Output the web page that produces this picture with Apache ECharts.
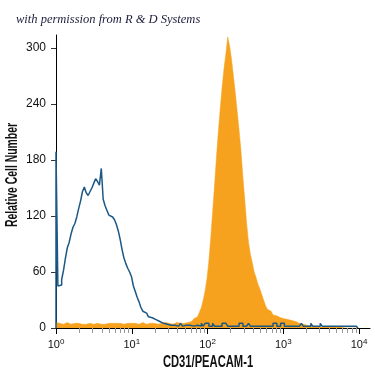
<!DOCTYPE html>
<html>
<head>
<meta charset="utf-8">
<script src="https://cdn.jsdelivr.net/npm/echarts@6/dist/echarts.min.js"></script>
<style>
  html, body { margin: 0; padding: 0; background: #fff; }
  #flow_chart { width: 375px; height: 375px; }
</style>
</head>
<body>
<div id="flow_chart"></div>
<script>
// bin width in decades (log10 units), bins start at 10^0
const binWidth = 0.025
// isotype control (blue outline), 160 bins from 10^0 to 10^4
const controlCounts = [
  189, 45, 46, 52, 62, 75, 86, 92, 101, 108, 112, 119, 128, 136, 146, 151, 145, 142, 146, 150,
  155, 160, 157, 153, 171, 138, 131, 126, 121, 119, 118, 116, 111, 104, 95, 84, 75, 69, 64, 60,
  55, 45, 39, 33, 28, 22, 18, 16, 14, 12, 11, 10, 9, 8, 7, 6, 5, 5, 4, 4,
  3, 4, 3, 3, 2, 3, 5, 2, 3, 2, 3, 5, 2, 2, 3, 2, 2, 5, 2, 5,
  5, 2, 2, 5, 2, 2, 2, 2, 5, 5, 5, 2, 2, 2, 2, 2, 2, 5, 5, 2,
  2, 2, 5, 2, 2, 2, 2, 2, 2, 2, 2, 2, 2, 2, 2, 5, 5, 2, 2, 5,
  5, 2, 2, 2, 2, 2, 2, 2, 2, 2, 5, 2, 2, 2, 2, 5, 2, 2, 2, 2,
  5, 2, 2, 2, 2, 2, 2, 2, 2, 2, 2, 2, 2, 2, 2, 2, 2, 2, 2, 2
]
// CD31 stained cells (orange filled)
const cd31Counts = [
  6, 5, 6, 4, 5, 6, 5, 4, 4, 5, 6, 5, 4, 4, 4, 4, 5, 5, 4, 4,
  4, 5, 4, 4, 5, 4, 4, 5, 6, 5, 4, 5, 4, 5, 5, 4, 4, 5, 4, 5,
  4, 5, 5, 4, 4, 6, 5, 4, 5, 5, 4, 5, 4, 4, 5, 5, 4, 6, 5, 5,
  5, 4, 5, 6, 5, 5, 6, 5, 5, 6, 6, 7, 9, 10, 12, 14, 17, 22, 30, 40,
  53, 72, 97, 125, 153, 183, 210, 235, 258, 278, 294, 312, 302, 288, 270, 252, 232, 212, 190, 162,
  138, 112, 92, 79, 70, 60, 54, 47, 42, 36, 30, 24, 20, 18, 16, 14, 13, 12, 11, 11,
  10, 10, 9, 9, 8, 8, 7, 6, 5, 4, 4, 3, 3, 3, 2, 2, 2, 2, 1, 1,
  1, 1, 1, 1, 1, 1, 1, 1, 1, 1, 1, 1, 0, 0, 0, 0, 0, 0, 0, 0
]
const decadeTicks = [0, 1, 2, 3, 4]
const yTicks = [0, 60, 120, 180, 240, 300]
const xTitle = 'CD31/PEACAM-1'
const yTitle = 'Relative Cell Number'

const fontFam = "'Liberation Sans', Arial, sans-serif"

// histogram counts -> step line points [log10 start, count]
function toSteps (counts) {
  let pts = [[0, 0]]
  counts.forEach((c, i) => {
    pts.push([+(i * binWidth).toFixed(4), c])
  })
  pts.push([+(counts.length * binWidth).toFixed(4), 0])
  return pts
}

// minor log ticks 2..9 in each decade
let minorTicks = []
for (let d = 0; d < 4; d++) {
  for (let k = 2; k <= 9; k++) {
    minorTicks.push(d + Math.log10(k))
  }
}

// axis titles are squeezed sideways to get the condensed look
function axisTitle (text, x, y, rotate, squeeze) {
  return {
    type: 'text',
    x: x,
    y: y,
    rotation: rotate ? Math.PI / 2 : 0,
    scaleX: squeeze,
    silent: true,
    style: {
      text: text,
      fontFamily: fontFam,
      fontWeight: 'bold',
      fontSize: 16,
      fill: '#111',
      align: 'center',
      verticalAlign: 'middle',
      textAlign: 'center',
      textVerticalAlign: 'middle'
    }
  }
}

const myChart = echarts.init(document.getElementById('flow_chart'))
const option = {
  animation: false,
  title: {
    text: 'with permission from R & D Systems',
    left: 11,
    top: 8,
    textStyle: {
      fontFamily: "'Liberation Serif', serif",
      fontStyle: 'italic',
      fontWeight: 'normal',
      fontSize: 12.5,
      color: '#1c1c3c'
    }
  },
  graphic: [
    axisTitle(xTitle, 208, 363, false, 0.7),
    axisTitle(yTitle, 13, 175, true, 0.65)
  ],
  // grid 0: data + axis lines, grid 1: ticks and labels
  grid: [
    { left: 56, right: 5, top: 35, bottom: 47 },
    { left: 56, right: 16, top: 48, bottom: 47 }
  ],
  xAxis: [{
    gridIndex: 0,
    type: 'value',
    min: 0,
    max: 4.159,
    axisLine: { show: true, lineStyle: { color: '#000', width: 1 } },
    axisTick: { show: false },
    axisLabel: { show: false },
    splitLine: { show: false }
  }, {
    gridIndex: 1,
    type: 'value',
    min: 0,
    max: 4,
    interval: 1,
    axisLine: { show: false },
    axisTick: { show: true, length: 6, lineStyle: { color: '#000' } },
    splitLine: { show: false },
    axisLabel: {
      margin: 10,
      formatter: function (v) {
        return decadeTicks.indexOf(v) > -1 ? '10{sup|' + v + '}' : ''
      },
      fontFamily: fontFam,
      fontSize: 11,
      color: '#111',
      rich: {
        sup: { fontFamily: fontFam, fontSize: 8, verticalAlign: 'top', padding: [0, 0, 6, 0], color: '#111' }
      }
    }
  }],
  yAxis: [{
    gridIndex: 0,
    type: 'value',
    min: 0,
    max: 314,
    axisLine: { show: true, lineStyle: { color: '#000', width: 1 } },
    axisTick: { show: false },
    axisLabel: { show: false },
    splitLine: { show: false }
  }, {
    gridIndex: 1,
    type: 'value',
    min: 0,
    max: 300,
    interval: 60,
    axisLine: { show: false },
    axisTick: { show: true, length: 5, lineStyle: { color: '#333' } },
    splitLine: { show: false },
    axisLabel: {
      margin: 10,
      formatter: function (v) {
        return yTicks.indexOf(v) > -1 ? v : ''
      },
      fontFamily: fontFam,
      fontSize: 12,
      color: '#111'
    }
  }],
  series: [{
    name: 'CD31',
    type: 'line',
    xAxisIndex: 0,
    yAxisIndex: 0,
    step: 'end',
    showSymbol: false,
    sampling: null,
    data: toSteps(cd31Counts),
    lineStyle: { width: 0.5, color: '#F7A21E' },
    areaStyle: { color: '#F7A21E', opacity: 1 },
    z: 2
  }, {
    name: 'control',
    type: 'line',
    xAxisIndex: 0,
    yAxisIndex: 0,
    step: 'end',
    showSymbol: false,
    data: toSteps(controlCounts),
    lineStyle: { width: 1.5, color: '#1B5886' },
    z: 3
  }, {
    // gray minor ticks under the log axis
    type: 'custom',
    xAxisIndex: 1,
    yAxisIndex: 1,
    silent: true,
    data: minorTicks.map(v => [v, 0]),
    renderItem: function (params, api) {
      let p = api.coord([api.value(0), 0])
      let x = Math.round(p[0]) + 0.5
      return {
        type: 'line',
        shape: { x1: x, y1: p[1], x2: x, y2: p[1] + 5 },
        style: { stroke: '#999', lineWidth: 1 }
      }
    },
    z: 1
  }]
}
myChart.setOption(option)
</script>
</body>
</html>
